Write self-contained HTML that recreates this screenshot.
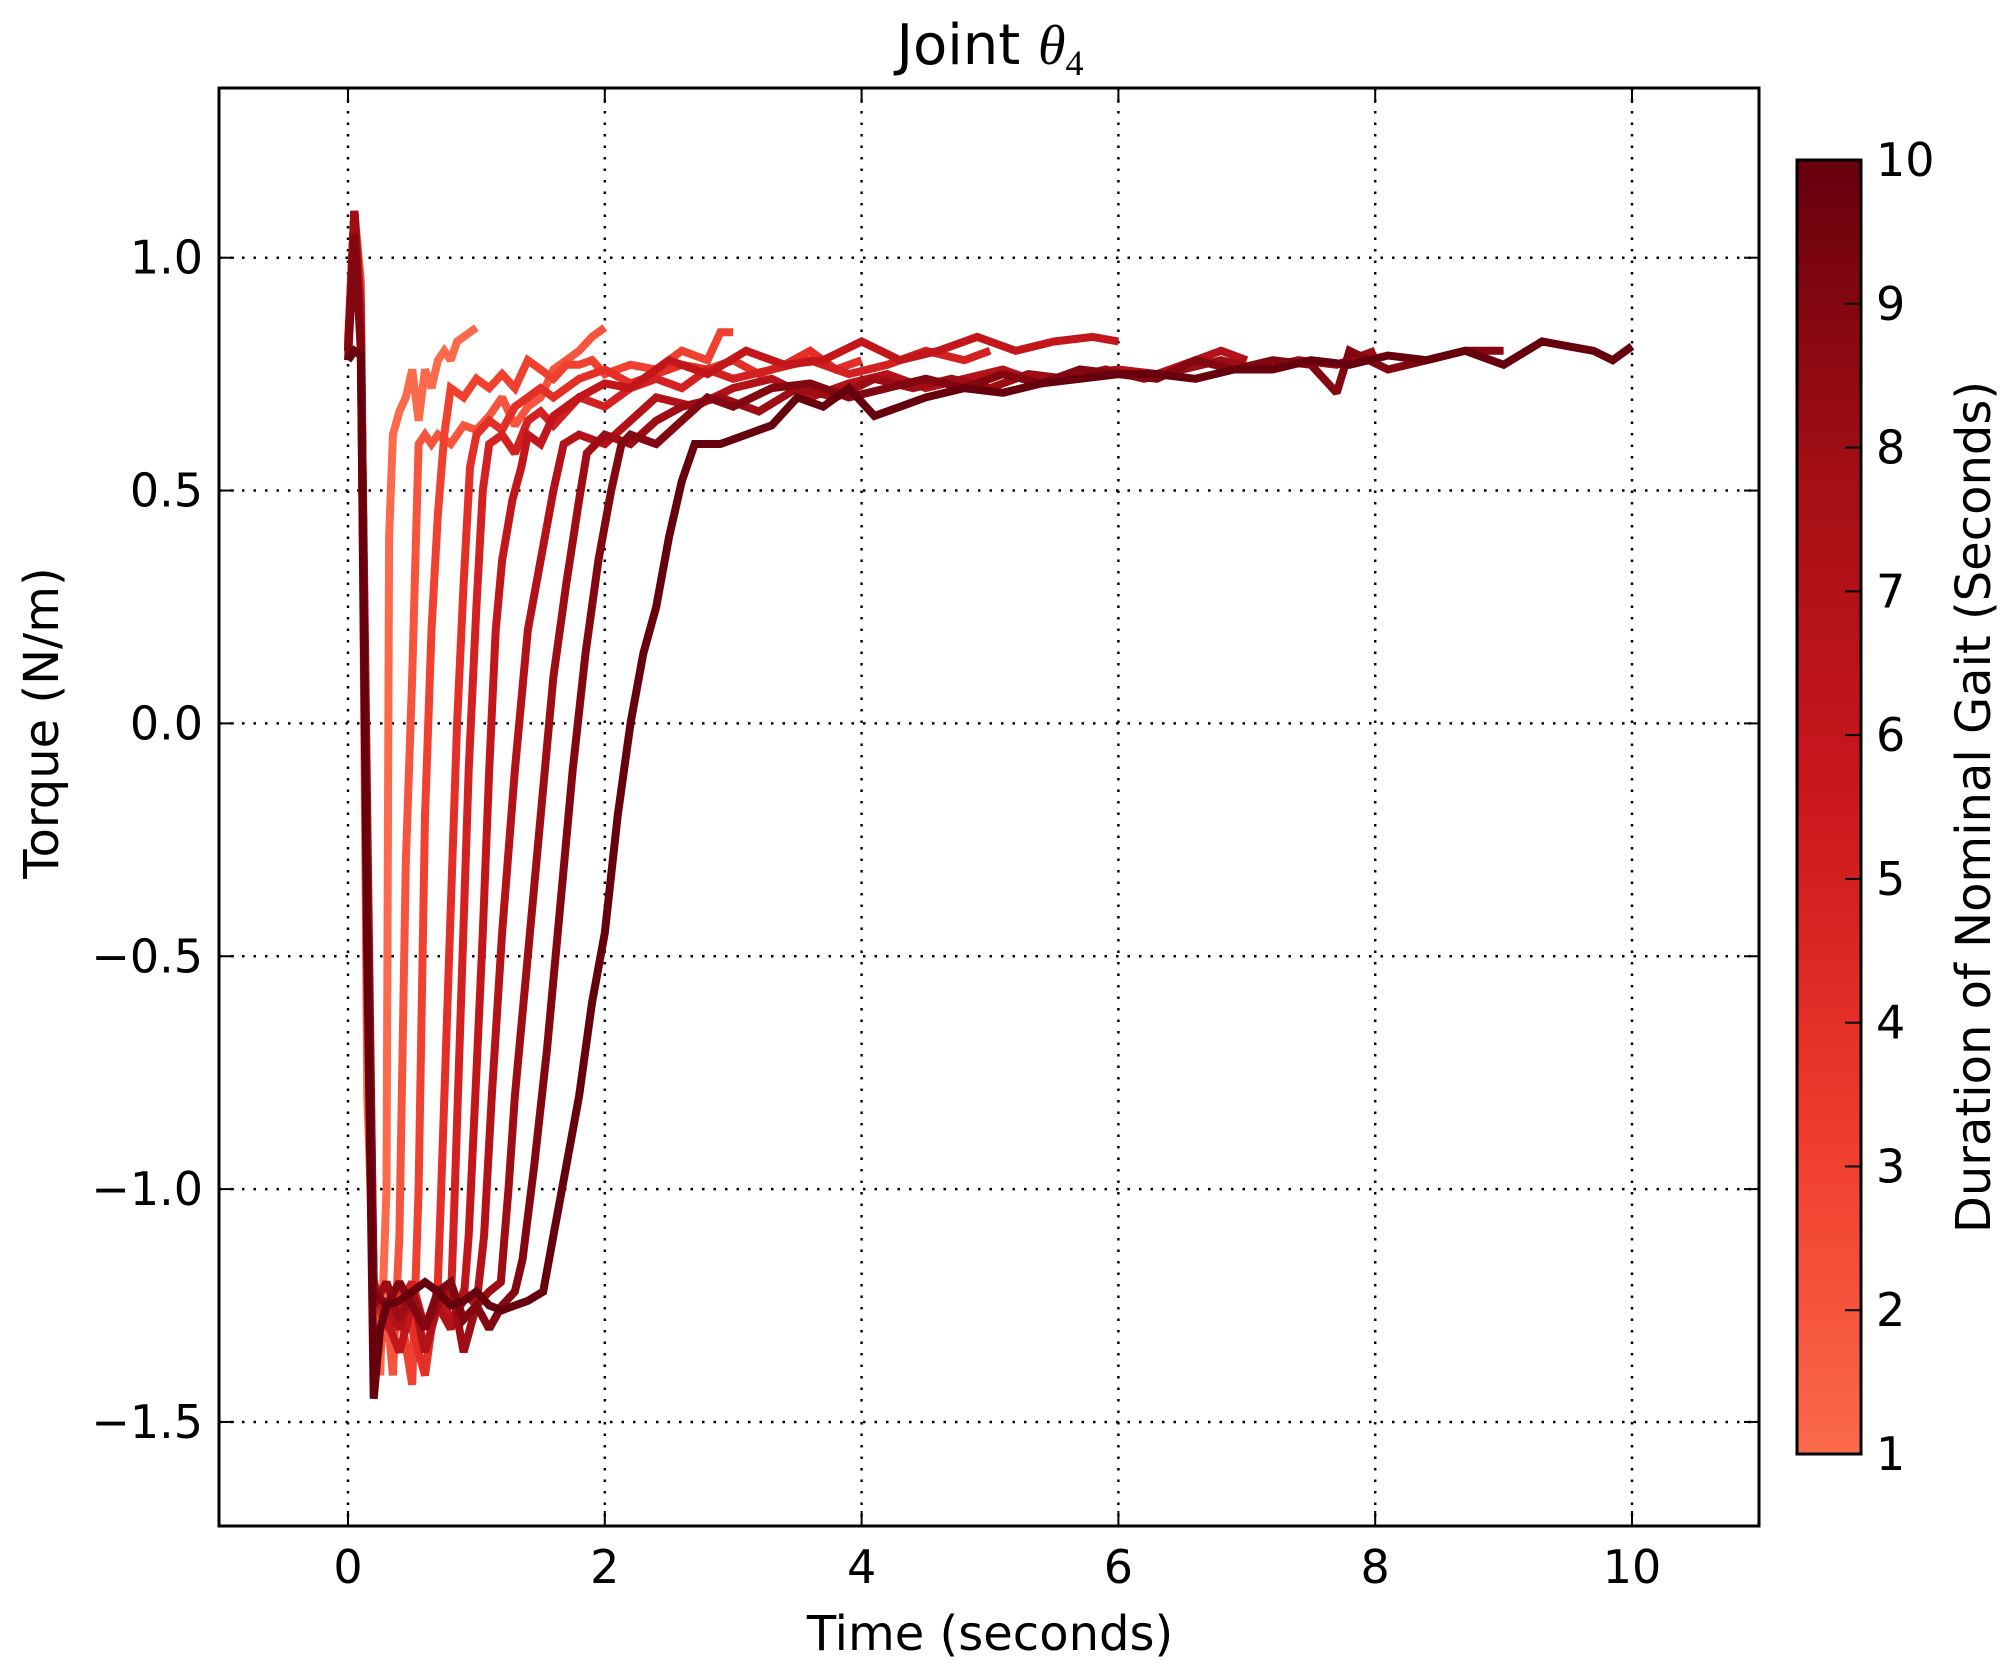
<!DOCTYPE html>
<html><head><meta charset="utf-8"><style>
html,body{margin:0;padding:0;background:#fff;}
svg{display:block;font-family:"DejaVu Sans","Liberation Sans",sans-serif;}
</style></head><body>
<svg id="chart" width="2016" height="1677" viewBox="0 0 2016 1677" xmlns="http://www.w3.org/2000/svg">
<defs><linearGradient id="cbg" x1="0" y1="1" x2="0" y2="0">
<stop offset="0" stop-color="#fb6a4a"/><stop offset="0.25" stop-color="#ef3b2c"/><stop offset="0.5" stop-color="#cb181d"/><stop offset="0.75" stop-color="#a50f15"/><stop offset="1" stop-color="#67000d"/>
</linearGradient></defs>
<g id="grid"></g>
<g id="lines"></g>
<g id="axes"></g>
<text x="990" y="64" font-size="56" text-anchor="middle">Joint <tspan font-family="'Liberation Serif',serif" font-style="italic">θ</tspan><tspan font-size="36" dy="11" font-family="'Liberation Serif',serif">4</tspan></text>
<text x="990" y="1650" font-size="48" text-anchor="middle">Time (seconds)</text>
<text x="0" y="0" font-size="48" text-anchor="middle" transform="translate(58,723) rotate(-90)">Torque (N/m)</text>
<rect x="1797" y="160" width="64" height="1294" fill="url(#cbg)" stroke="#000" stroke-width="3"/>
<g id="cbticks"></g>
<text x="0" y="0" font-size="48" text-anchor="middle" transform="translate(1990,807) rotate(-90)">Duration of Nominal Gait (Seconds)</text>
</svg>
<script>
const durations=[1,2,3,4,5,6,7,8,9,10];
const xTicks=[0,2,4,6,8,10];
const yTicks=[-1.5,-1.0,-0.5,0.0,0.5,1.0];
const yTickLabels=["\u22121.5","\u22121.0","\u22120.5","0.0","0.5","1.0"];
const t1=[0,.05,.1,.15,.2,.25,.3,.32,.35,.4,.45,.5,.55,.6,.65,.7,.75,.8,.85,.9,.95,1.0];
const v1=[.8,1.1,.9,-.8,-1.2,-1.4,-1.0,.4,.62,.67,.7,.76,.65,.76,.72,.78,.8,.78,.82,.83,.84,.85];
const t2=[0,.05,.1,.15,.2,.25,.3,.35,.4,.45,.5,.55,.6,.65,.7,.8,.9,1.0,1.1,1.2,1.3,1.4,1.5,1.6,1.7,1.8,1.9,2.0];
const v2=[.8,1.1,.95,-.5,-1.2,-1.35,-1.25,-1.4,-1.1,-.3,.1,.6,.62,.6,.62,.6,.64,.63,.66,.7,.64,.68,.7,.76,.78,.8,.83,.85];
const t3=[0,.05,.1,.15,.2,.3,.4,.5,.55,.6,.65,.7,.75,.8,.9,1.0,1.1,1.2,1.3,1.4,1.5,1.6,1.7,1.8,1.9,2.0,2.2,2.4,2.6,2.8,2.9,3.0];
const v3=[.82,1.1,.9,-.6,-1.22,-1.3,-1.25,-1.42,-1.0,-.2,.2,.45,.62,.72,.7,.74,.72,.75,.72,.78,.76,.74,.77,.77,.78,.75,.77,.76,.8,.78,.84,.84];
const t4=[0,.05,.1,.15,.2,.3,.4,.5,.6,.7,.72,.8,.85,.9,.95,1.0,1.1,1.2,1.3,1.4,1.5,1.6,1.8,2.0,2.2,2.4,2.6,2.8,3.0,3.2,3.4,3.6,3.8,4.0];
const v4=[.8,1.1,.88,-.5,-1.2,-1.28,-1.22,-1.3,-1.4,-1.2,-1.05,-.4,0,.3,.55,.62,.65,.63,.68,.7,.72,.7,.74,.76,.73,.75,.77,.76,.78,.75,.77,.8,.76,.78];
const t5=[0,.05,.1,.15,.2,.3,.4,.5,.6,.7,.8,.82,.88,.94,1.0,1.05,1.1,1.2,1.3,1.4,1.5,1.6,1.8,2.0,2.2,2.4,2.6,2.8,3.0,3.3,3.6,3.9,4.2,4.5,4.8,5.0];
const v5=[.8,1.1,.9,-.4,-1.22,-1.3,-1.25,-1.2,-1.3,-1.22,-1.25,-1.1,-.6,-.1,.25,.5,.6,.62,.58,.65,.67,.64,.7,.68,.72,.74,.72,.76,.74,.76,.78,.75,.77,.8,.78,.8];
const t6=[0,.05,.1,.15,.2,.3,.4,.5,.6,.7,.8,.9,.94,1.0,1.05,1.1,1.15,1.2,1.28,1.35,1.4,1.5,1.6,1.8,2.0,2.2,2.5,2.8,3.1,3.4,3.7,4.0,4.3,4.6,4.9,5.2,5.5,5.8,6.0];
const v6=[.8,1.1,.85,-.3,-1.2,-1.28,-1.35,-1.25,-1.3,-1.22,-1.28,-1.24,-1.1,-.75,-.45,-.1,.2,.35,.48,.55,.62,.6,.66,.7,.73,.72,.78,.75,.8,.77,.78,.82,.78,.8,.83,.8,.82,.83,.82];
const t7=[0,.05,.1,.15,.2,.3,.4,.5,.6,.7,.8,.9,1.0,1.06,1.12,1.2,1.3,1.4,1.5,1.6,1.68,1.8,2.0,2.2,2.4,2.7,3.0,3.3,3.6,3.9,4.2,4.5,4.8,5.1,5.4,5.7,6.0,6.3,6.6,6.8,7.0];
const v7=[.8,1.1,.85,-.2,-1.22,-1.25,-1.3,-1.22,-1.35,-1.25,-1.3,-1.22,-1.25,-1.1,-.8,-.45,-.1,.2,.35,.5,.6,.62,.6,.65,.7,.68,.72,.74,.7,.73,.75,.72,.74,.76,.73,.75,.76,.75,.78,.8,.78];
const t8=[0,.05,.1,.15,.2,.3,.4,.5,.6,.7,.8,.9,1.0,1.1,1.19,1.25,1.3,1.4,1.5,1.6,1.7,1.8,1.86,2.0,2.2,2.4,2.6,2.9,3.2,3.5,3.8,4.1,4.4,4.7,5.0,5.3,5.6,5.9,6.2,6.5,6.8,7.1,7.4,7.7,8.0];
const v8=[.8,1.1,.82,-.3,-1.25,-1.2,-1.28,-1.22,-1.3,-1.25,-1.2,-1.35,-1.25,-1.22,-1.2,-1.0,-.8,-.5,-.2,.1,.3,.48,.58,.62,.6,.65,.68,.7,.67,.72,.7,.74,.72,.74,.72,.75,.74,.76,.74,.76,.78,.76,.78,.77,.8];
const t9=[0,.05,.1,.15,.2,.3,.4,.5,.6,.7,.8,.9,1.0,1.1,1.2,1.3,1.36,1.45,1.55,1.65,1.75,1.85,1.95,2.05,2.13,2.2,2.4,2.6,2.8,3.0,3.3,3.6,3.9,4.2,4.5,4.8,5.1,5.4,5.7,6.0,6.3,6.6,6.9,7.2,7.5,7.7,7.8,8.1,8.4,8.7,9.0];
const v9=[.78,1.05,.8,-.4,-1.22,-1.25,-1.2,-1.25,-1.3,-1.22,-1.2,-1.28,-1.25,-1.3,-1.25,-1.22,-1.15,-.95,-.7,-.4,-.1,.15,.35,.5,.6,.62,.6,.65,.7,.68,.72,.73,.7,.72,.74,.72,.75,.73,.76,.75,.74,.78,.76,.78,.77,.71,.8,.76,.78,.8,.8];
const t10=[0,.05,.1,.15,.2,.25,.3,.4,.5,.6,.7,.8,.9,1.0,1.1,1.2,1.3,1.4,1.52,1.6,1.7,1.8,1.9,2.0,2.1,2.2,2.3,2.4,2.5,2.6,2.7,2.9,3.1,3.3,3.5,3.7,3.9,4.1,4.3,4.5,4.8,5.1,5.4,5.7,6.0,6.3,6.6,6.9,7.2,7.5,7.8,8.1,8.4,8.7,9.0,9.3,9.5,9.7,9.85,10.0];
const v10=[.78,.8,.79,-.5,-1.45,-1.3,-1.25,-1.24,-1.22,-1.2,-1.22,-1.25,-1.24,-1.22,-1.25,-1.26,-1.25,-1.24,-1.22,-1.1,-.95,-.8,-.6,-.45,-.2,0,.15,.25,.4,.52,.6,.6,.62,.64,.7,.68,.72,.66,.68,.7,.72,.71,.73,.74,.75,.75,.74,.76,.76,.78,.77,.79,.78,.8,.77,.82,.81,.8,.78,.81];
const seriesTimes=[t1,t2,t3,t4,t5,t6,t7,t8,t9,t10];
const seriesValues=[v1,v2,v3,v4,v5,v6,v7,v8,v9,v10];

const NS="http://www.w3.org/2000/svg";
const L=219,R=1759,T=88,B=1526;
const X=t=>348+t*128.4;
const Y=v=>723.4-v*465.7;
const CB_TOP=160,CB_BOT=1454;
const CY=d=>CB_BOT-(d-1)/9*(CB_BOT-CB_TOP);
const stops=[[0,[251,106,74]],[.25,[239,59,44]],[.5,[203,24,29]],[.75,[165,15,21]],[1,[103,0,13]]];
function cmap(f){for(let i=0;i<stops.length-1;i++){const a=stops[i],b=stops[i+1];if(f<=b[0]){const u=(f-a[0])/(b[0]-a[0]);const c=a[1].map((x,k)=>Math.round(x+(b[1][k]-x)*u));return `rgb(${c.join(',')})`;}}return 'rgb(103,0,13)';}
function mk(tag,attrs,parent){const e=document.createElementNS(NS,tag);for(const k in attrs)e.setAttribute(k,attrs[k]);parent.appendChild(e);return e;}
const grid=document.getElementById('grid'),lines=document.getElementById('lines'),axes=document.getElementById('axes'),cbt=document.getElementById('cbticks');
xTicks.forEach(t=>{const g=mk('line',{x1:X(t),x2:X(t),y1:T,y2:B,stroke:'#000','stroke-width':2.5,'stroke-dasharray':'2.5 9'},grid);

});
yTicks.forEach(v=>{const g=mk('line',{x1:L,x2:R,y1:Y(v),y2:Y(v),stroke:'#000','stroke-width':2.5,'stroke-dasharray':'2.5 9'},grid);

});
durations.forEach((d,i)=>{const ts=seriesTimes[i],vs=seriesValues[i];const pts=ts.map((t,k)=>X(t).toFixed(1)+','+Y(vs[k]).toFixed(1)).join(' ');
const p=mk('polyline',{points:pts,fill:'none',stroke:cmap((d-1)/9),'stroke-width':8,'stroke-linejoin':'miter','stroke-miterlimit':2},lines);

});
const fr=mk('rect',{x:L,y:T,width:R-L,height:B-T,fill:'none',stroke:'#000','stroke-width':3},axes);


xTicks.forEach(t=>{mk('line',{x1:X(t),x2:X(t),y1:B,y2:B-15,stroke:'#000','stroke-width':2},axes);mk('line',{x1:X(t),x2:X(t),y1:T,y2:T+15,stroke:'#000','stroke-width':2},axes);
const tx=mk('text',{x:X(t),y:1583,'font-size':46,'text-anchor':'middle'},axes);tx.textContent=String(t);

});
yTicks.forEach((v,i)=>{mk('line',{x1:L,x2:L+15,y1:Y(v),y2:Y(v),stroke:'#000','stroke-width':2},axes);mk('line',{x1:R,x2:R-15,y1:Y(v),y2:Y(v),stroke:'#000','stroke-width':2},axes);
const tx=mk('text',{x:203,y:Y(v)+16,'font-size':46,'text-anchor':'end'},axes);tx.textContent=yTickLabels[i];

});
durations.forEach(d=>{if(d>1&&d<10)mk('line',{x1:1845,x2:1861,y1:CY(d),y2:CY(d),stroke:'#000','stroke-width':2},cbt);
const tx=mk('text',{x:1876,y:CY(d)+16,'font-size':46},cbt);tx.textContent=String(d);

});
</script>
</body></html>
